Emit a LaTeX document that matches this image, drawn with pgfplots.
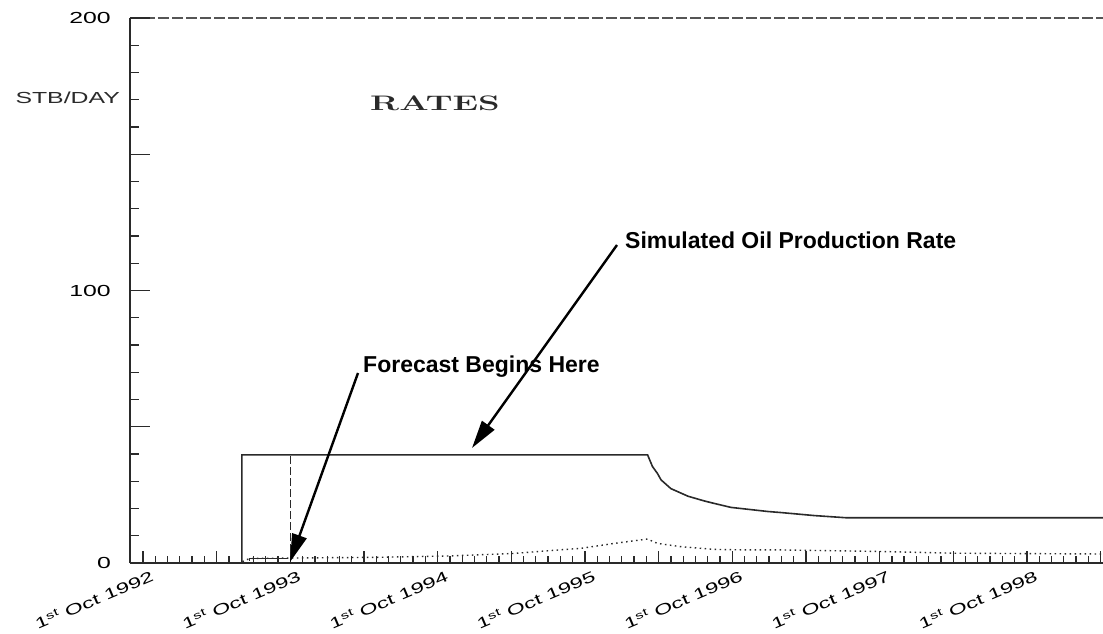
\documentclass[border=0pt]{standalone}
\usepackage{pgfplots}
\pgfplotsset{compat=1.18}
\usepackage{fontspec}
\usetikzlibrary{arrows.meta}
\newfontfamily\tickfont[FakeStretch=1.55]{Liberation Sans}
\newfontfamily\annfont{Liberation Sans}
\definecolor{ink}{HTML}{2A2A2A}
\begin{document}
\begin{tikzpicture}
\useasboundingbox (0pt,0pt) rectangle (1103pt,633pt);
% ---------- data + x axis ----------
\begin{axis}[at={(130pt,70pt)}, anchor=south west, scale only axis,
  width=973pt, height=545pt,
  xmin=-1.06, xmax=78.2, ymin=0, ymax=200,
  axis x line=bottom, axis y line=none,
  axis line style={-, line width=2pt, color=ink},
  tick align=inside,
  xtick={0,12,...,72},
  extra x ticks={6,18,30,42,54,66,78}, extra x tick labels={},
  minor xtick={1,2,...,78},
  major tick length=12pt, minor tick length=7pt,
  every tick/.style={line width=1.3pt, color=ink},
  xticklabels={1\textsuperscript{st} Oct 1992,1\textsuperscript{st} Oct 1993,1\textsuperscript{st} Oct 1994,1\textsuperscript{st} Oct 1995,1\textsuperscript{st} Oct 1996,1\textsuperscript{st} Oct 1997,1\textsuperscript{st} Oct 1998},
  xticklabel style={font=\tickfont\fontsize{15}{15}\selectfont, inner sep=0pt, xshift=7pt, yshift=-6pt, rotate=23, anchor=north east},
  clip=false,
]
% Simulated oil production rate
\addplot[ink, line width=1.6pt] coordinates {
 (0,0) (8.05,0) (8.05,39.7) (41.1,39.7) (41.5,35.4) (41.9,32.9) (42.2,30.5)
 (43.0,27.3) (44.4,24.5) (45.7,22.8) (46.5,21.9) (47.9,20.4) (49.3,19.7)
 (50.9,18.9) (52.0,18.5) (54.7,17.4) (57.3,16.6) (78.2,16.6)};
% small historical segment
\addplot[ink, line width=1.2pt] coordinates {(8.7,0.8) (8.7,1.6) (11.8,1.6)};
% forecast start (dashed)
\addplot[ink, line width=1.4pt, dash pattern=on 8pt off 3pt] coordinates {(12,0) (12,39.7)};
% dotted series
\addplot[ink, line width=1.4pt, dash pattern=on 1.5pt off 3.5pt] coordinates {
 (8.1,0.5) (8.6,1.5) (9,1.7) (19.3,2.1) (25,2.6) (30.2,3.5) (33,4.5) (35.7,5.4)
 (38.4,7.2) (41.1,8.8) (41.9,7.2) (43.8,6.0) (46.5,5.0) (49.3,4.8) (52,4.8)
 (60.4,4.2) (65.9,3.6) (78.2,3.3)};
\draw[color=ink!80, line width=1.8pt, dash pattern=on 11pt off 3pt]
  (rel axis cs:0,1) -- (rel axis cs:1,1);
\end{axis}
% ---------- y axis ----------
\begin{axis}[at={(130pt,70pt)}, anchor=south west, scale only axis,
  width=973pt, height=545pt,
  xmin=-1.06, xmax=78.2, ymin=0, ymax=200,
  axis x line=none, axis y line=left,
  axis line style={-, line width=2pt, color=ink},
  tick align=inside,
  ytick={0,100,200}, yticklabels={0,100,200},
  extra y ticks={50,150}, extra y tick labels={},
  minor ytick={10,20,...,190},
  major tick length=20pt, minor tick length=9pt,
  every tick/.style={line width=1.3pt, color=ink},
  yticklabel style={font=\tickfont\fontsize{16}{16}\selectfont, inner sep=0pt, anchor=east, xshift=-19pt},
]
\end{axis}
% ---------- annotations ----------
\node[anchor=east, inner sep=0pt, font=\tickfont\fontsize{16}{16}\selectfont, text=ink] at (120pt,535pt) {STB/DAY};
\node[inner sep=0pt, text=ink] at (435pt,530pt) {\scalebox{1.65}[1]{\fontsize{21}{21}\selectfont\bfseries RATES}};
\node[anchor=west, inner sep=0pt, font=\annfont\bfseries\fontsize{23}{23}\selectfont] at (625pt,393pt) {Simulated Oil Production Rate};
\node[anchor=west, inner sep=0pt, font=\annfont\bfseries\fontsize{23}{23}\selectfont] at (363pt,266pt) {Forecast Begins Here};
\draw[line width=2.4pt, -{Triangle[length=28pt,width=15pt]}] (617pt,388pt) -- (472pt,185pt);
\draw[line width=2.4pt, -{Triangle[length=28pt,width=15pt]}] (358pt,260pt) -- (290pt,71pt);
\end{tikzpicture}
\end{document}
